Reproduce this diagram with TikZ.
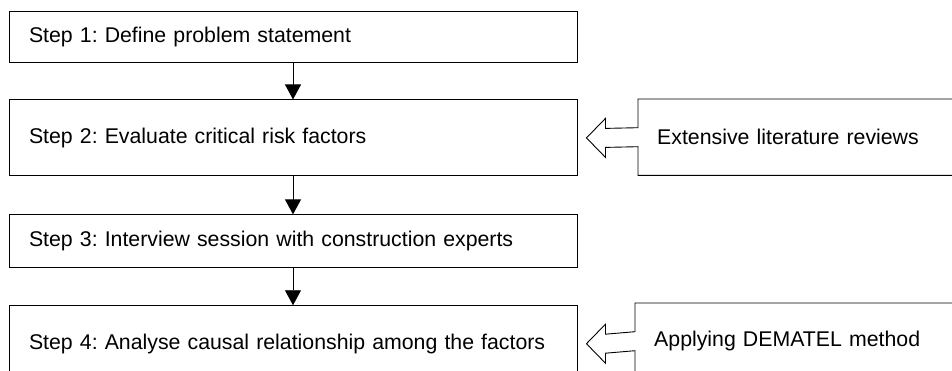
\documentclass[tikz,border=0pt]{standalone}
\usepackage{fontspec}
\setmainfont{Liberation Sans}
\usetikzlibrary{positioning,calc,arrows.meta}
\frenchspacing

\tikzset{
  stepbox/.style={draw, line width=0.9pt, minimum width=568pt, text width=528pt,
    inner xsep=20pt, align=left, font=\fontsize{21.3}{25}\selectfont},
  sidebox/.style={minimum width=330pt, minimum height=76pt, text width=292pt,
    inner xsep=19pt, align=left, anchor=north west, font=\fontsize{21.3}{25}\selectfont},
  flow/.style={-{Triangle[length=15pt,width=16pt]}, line width=0.9pt},
  outline/.style={line width=0.9pt, line join=miter}
}

\begin{document}
\begin{tikzpicture}[x=1pt, y=1pt, node distance=37pt]
    \useasboundingbox (0,0) rectangle (952,-371);

    % Steps
    \node[stepbox, minimum height=51pt] (s1) at (293,-36.5) {Step 1: Define problem statement};
    \node[stepbox, minimum height=76pt, below=of s1] (s2) {Step 2: Evaluate critical risk factors};
    \node[stepbox, minimum height=53pt, below=38pt of s2] (s3) {Step 3: Interview session with construction experts};
    \node[stepbox, minimum height=76pt, below=of s3] (s4) {Step 4: Analyse causal relationship among the factors};

    % Arrows between steps
    \draw[flow] (s1) -- (s2);
    \draw[flow] (s2) -- (s3);
    \draw[flow] (s3) -- (s4);

    % Inputs on the right
    \node[sidebox] (lit) at (638,-99) {Extensive literature reviews};
    \node[sidebox] (dem) at (635,-303) {Applying DEMATEL method};

    % Box outlines with hollow arrows
    \draw[outline] (lit.north east) -- (lit.north west) -- ($(lit.west)+(0,9.5)$)
        -- ($(s2.east)+(28,9.5)$) -- ($(s2.east)+(28,19.5)$) -- ($(s2.east)+(9,0)$)
        -- ($(s2.east)+(28,-19.5)$) -- ($(s2.east)+(28,-9.5)$) -- ($(lit.west)+(0,-9.5)$)
        -- (lit.south west) -- (lit.south east);
    \draw[outline] (dem.north east) -- (dem.north west) -- ($(dem.west)+(0,9.5)$)
        -- ($(s4.east)+(28,9.5)$) -- ($(s4.east)+(28,19.5)$) -- ($(s4.east)+(9,0)$)
        -- ($(s4.east)+(28,-19.5)$) -- ($(s4.east)+(28,-9.5)$) -- ($(dem.west)+(0,-9.5)$)
        -- (dem.south west) -- (dem.south east);
\end{tikzpicture}
\end{document}
